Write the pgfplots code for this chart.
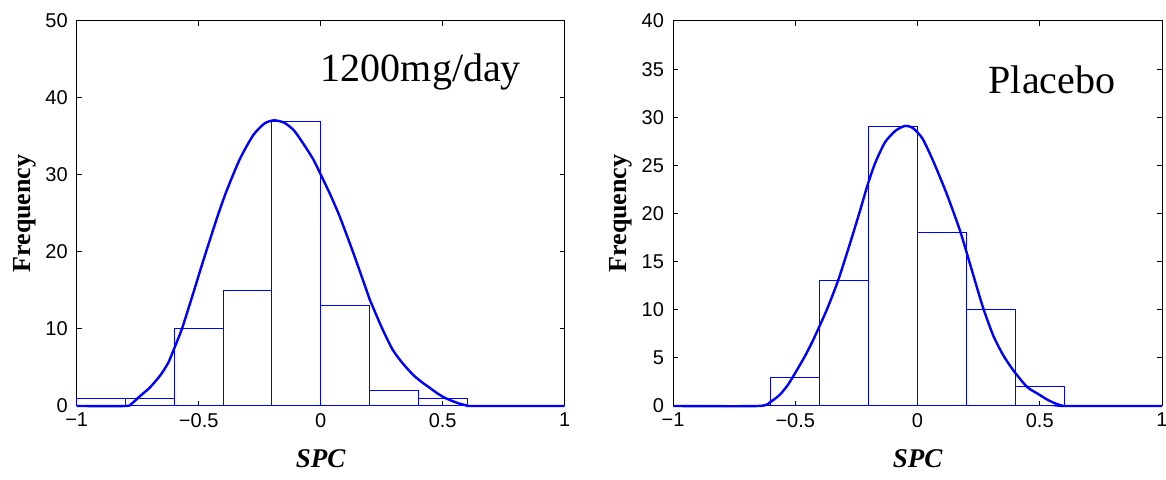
\documentclass[border=0pt]{standalone}
\usepackage{fontspec}
\setmainfont{Liberation Serif}
\newfontfamily\arial{Liberation Sans}
\usepackage{pgfplots}
\pgfplotsset{compat=1.18}
\definecolor{mblue}{RGB}{0,0,255}
\pgfplotsset{
  mystyle/.style={
    scale only axis,
    height=192.5pt,
    xmin=-1, xmax=1, ymin=0,
    xtick={-1,-0.5,0,0.5,1},
    xticklabels={−1,−0.5,0,0.5,1},
    tick align=inside,
    major tick length=2.5pt,
    tick style={black, line width=0.5pt},
    axis line style={black, line width=0.5pt},
    /pgf/number format/assume math mode=true,
    ticklabel style={font=\arial\fontsize{10}{11}\selectfont},
    xticklabel style={yshift=0pt},
    yticklabel style={xshift=-1pt},
    xlabel={\fontsize{13.5}{14}\selectfont\bfseries\itshape SPC},
    ylabel={\fontsize{13}{14}\selectfont\bfseries Frequency},
    xlabel style={at={(axis description cs:0.5,-0.161)}, anchor=base},
    ylabel style={at={(axis description cs:-0.107,0.5)}, anchor=center},
    clip=false,
  }
}
\begin{document}
\begin{tikzpicture}
\useasboundingbox (-38.35pt,-37pt) rectangle (544.65pt,203pt);
\begin{axis}[mystyle, width=244pt, ymax=50, ytick={0,10,20,30,40,50}, at={(0pt,0pt)}]
\addplot[ybar interval, draw=mblue, fill=none, line width=0.5pt] coordinates {
(-1,1)(-0.8,1)(-0.6,10)(-0.4,15)(-0.2,37)(0,13)(0.2,2)(0.4,1)(0.6,0)};
\addplot[mblue, line width=1.2pt, smooth, tension=0.4] coordinates {
(-1,0)(-0.8,0)(-0.775,0.3)(-0.74,1.3)(-0.70,2.4)(-0.657,4.0)(-0.625,5.6)(-0.604,7.2)(-0.569,10)(-0.521,14.8)(-0.49,18.0)(-0.46,21.0)(-0.42,24.9)(-0.385,28.0)(-0.331,32.1)(-0.276,35.2)(-0.23,36.7)(-0.192,37.1)(-0.15,36.8)(-0.11,35.8)(-0.072,34.1)(-0.03,32.0)(0.004,29.8)(0.04,27.4)(0.078,24.6)(0.13,20.2)(0.187,15.1)(0.2,13.9)(0.25,10.2)(0.295,7.3)(0.337,5.5)(0.377,4.1)(0.41,3.2)(0.445,2.4)(0.48,1.6)(0.513,1.0)(0.56,0.4)(0.6,0.05)(0.62,0)(1,0)};
\node[font=\fontsize{20}{22}\selectfont, anchor=base] at (axis cs:0.411,42.2) {1200mg/day};
\end{axis}
\begin{axis}[mystyle, width=244.5pt, ymax=40, ytick={0,5,10,15,20,25,30,35,40}, at={(298.15pt,0pt)}]
\addplot[ybar interval, draw=mblue, fill=none, line width=0.5pt] coordinates {
(-0.6,3)(-0.4,13)(-0.2,29)(0,18)(0.2,10)(0.4,2)(0.6,0)};
\addplot[mblue, line width=1.2pt, smooth, tension=0.4] coordinates {
(-1,0)(-0.65,0)(-0.6,0.45)(-0.562,1.2)(-0.53,2.2)(-0.494,3.7)(-0.46,5.2)(-0.426,6.9)(-0.371,10)(-0.324,13.1)(-0.276,16.9)(-0.235,20.3)(-0.205,22.9)(-0.174,25.2)(-0.133,27.4)(-0.09,28.6)(-0.051,29.1)(-0.02,28.9)(0.02,27.8)(0.065,25.4)(0.12,22.0)(0.174,18.2)(0.22,14.3)(0.267,10.3)(0.31,7.3)(0.35,5.3)(0.392,3.7)(0.447,2.0)(0.49,1.3)(0.528,0.7)(0.56,0.3)(0.59,0.05)(0.61,0)(1,0)};
\node[font=\fontsize{20}{22}\selectfont, anchor=base] at (axis cs:0.55,32.5) {Placebo};
\end{axis}
\end{tikzpicture}
\end{document}
